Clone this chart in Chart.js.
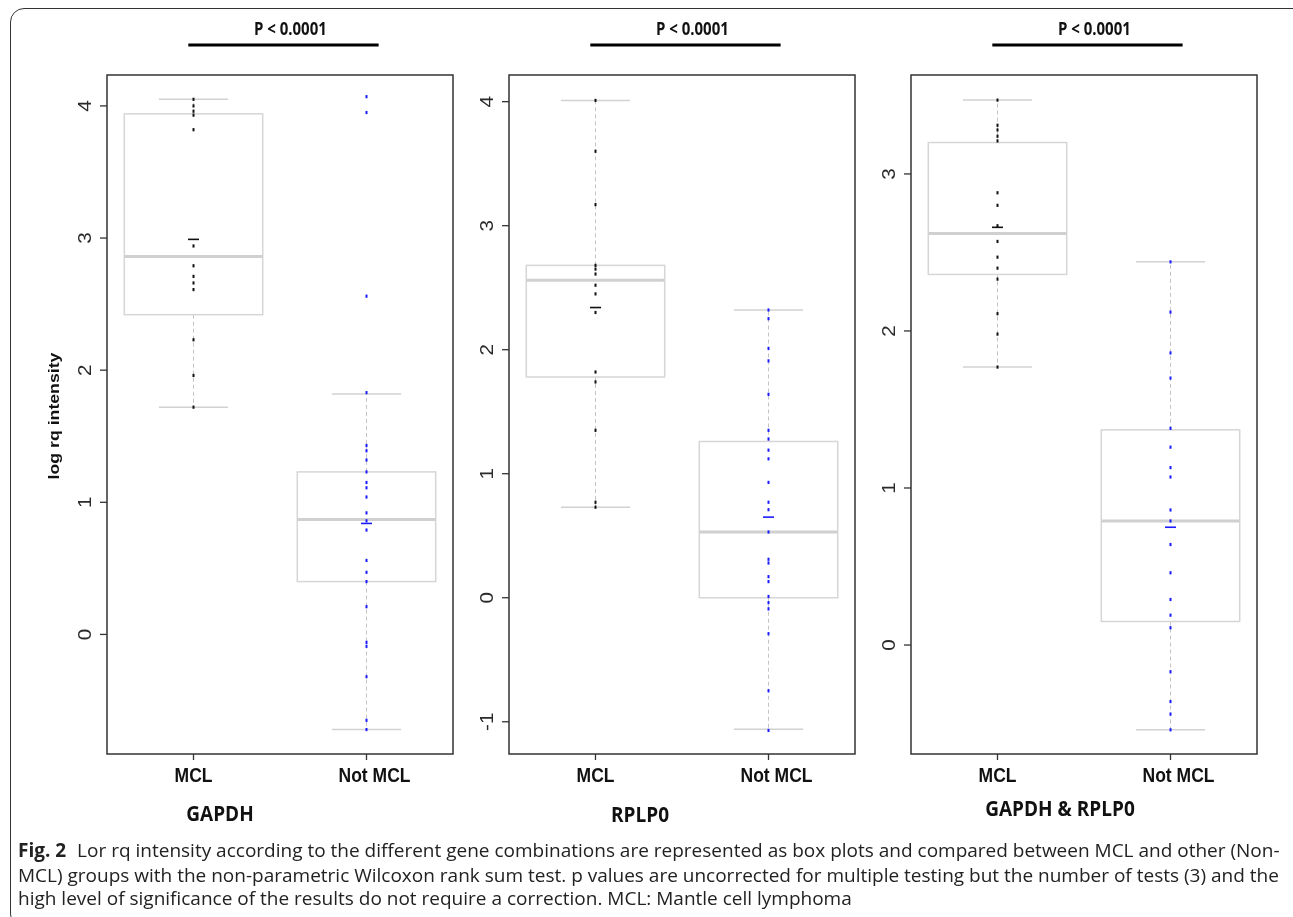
<!DOCTYPE html>
<html>
<head>
<meta charset="utf-8">
<script src="https://cdn.jsdelivr.net/npm/chart.js@4.4.1/dist/chart.umd.min.js"></script>
<style>
  html, body { margin: 0; padding: 0; background: #fff; }
  #page { position: relative; width: 1293px; height: 917px; overflow: hidden; }
  #page canvas { position: absolute; left: 0; top: 0; pointer-events: none; }
  .frame { position: absolute; left: 10px; top: 8px; width: 1300px; height: 920px;
    border: 1.5px solid #333; border-radius: 14px; box-sizing: border-box; }
  .sub { position: absolute; transform: translate(-50%, -50%) scaleY(1.1); white-space: nowrap;
    font: bold 19px "Open Sans", sans-serif; color: #111; }
  .cap { position: absolute; left: 18px; white-space: nowrap; color: #222;
    font-family: "Open Sans", sans-serif; font-size: 17px; line-height: 24px; }
  .cap b { font-weight: bold; margin-right: 6px; }
</style>
</head>
<body>
<div id="page">
  <div class="frame"></div>
  <canvas id="c0" width="1293" height="917"></canvas>
  <canvas id="c1" width="1293" height="917"></canvas>
  <canvas id="c2" width="1293" height="917"></canvas>
  <div class="sub" style="left:220px;top:813px">GAPDH</div>
  <div class="sub" style="left:640px;top:814px">RPLP0</div>
  <div class="sub" style="left:1060px;top:808px">GAPDH &amp; RPLP0</div>
  <div class="cap" id="cap1" style="top:838px"><b>Fig. 2</b> Lor rq intensity according to the different gene combinations are represented as box plots and compared between MCL and other (Non-</div>
  <div class="cap" style="top:863px">MCL) groups with the non-parametric Wilcoxon rank sum test. p values are uncorrected for multiple testing but the number of tests (3) and the</div>
  <div class="cap" style="top:886px">high level of significance of the results do not require a correction. MCL: Mantle cell lymphoma</div>
</div>
<script>
// groups on the x axis
const groups = ['MCL', 'Not MCL'];
const pLabel = 'P < 0.0001';
const yTitle = 'log rq intensity';

// GAPDH
const gapdhMcl = [4.05, 4.00, 3.96, 3.93, 3.82, 2.94, 2.79, 2.71, 2.66, 2.61, 2.23, 1.96, 1.72];
const gapdhNot = [4.07, 3.95, 2.56, 1.83, 1.43, 1.39, 1.32, 1.23, 1.15, 1.11, 1.04, 0.92, 0.86, 0.79,
  0.56, 0.47, 0.40, 0.21, -0.06, -0.09, -0.32, -0.65, -0.72];
// [low whisker, q1, median, q3, high whisker]
const gapdhBox = [[1.72, 2.42, 2.86, 3.94, 4.05], [-0.72, 0.40, 0.87, 1.23, 1.82]];
const gapdhMean = [2.99, 0.84];
const gapdhTicks = [0, 1, 2, 3, 4];

// RPLP0
const rplp0Mcl = [4.01, 3.60, 3.17, 2.68, 2.65, 2.61, 2.52, 2.45, 2.30, 1.82, 1.74, 1.35, 0.77, 0.73];
const rplp0Not = [2.32, 2.25, 2.01, 1.91, 1.64, 1.35, 1.28, 1.19, 1.12, 0.93, 0.77, 0.71, 0.53, 0.31,
  0.28, 0.17, 0.13, 0.01, -0.04, -0.09, -0.29, -0.75, -1.07];
const rplp0Box = [[0.73, 1.78, 2.56, 2.68, 4.01], [-1.06, 0.00, 0.53, 1.26, 2.32]];
const rplp0Mean = [2.34, 0.65];
const rplp0Ticks = [-1, 0, 1, 2, 3, 4];

// GAPDH & RPLP0
const bothMcl = [3.47, 3.31, 3.28, 3.24, 3.21, 2.88, 2.80, 2.67, 2.57, 2.47, 2.40, 2.33, 2.11, 1.98, 1.77];
const bothNot = [2.44, 2.12, 1.86, 1.70, 1.38, 1.26, 1.13, 1.07, 0.86, 0.79, 0.64, 0.46, 0.29, 0.19,
  0.11, -0.17, -0.36, -0.44, -0.54];
const bothBox = [[1.77, 2.36, 2.62, 3.20, 3.47], [-0.54, 0.15, 0.79, 1.37, 2.44]];
const bothMean = [2.66, 0.75];
const bothTicks = [0, 1, 2, 3];

const panels = [
  { id: 'c0', left: 107, yMin: -0.905, yMax: 4.234, mcl: gapdhMcl, not: gapdhNot, box: gapdhBox, mean: gapdhMean, ticks: gapdhTicks, title: true },
  { id: 'c1', left: 509, yMin: -1.26, yMax: 4.215, mcl: rplp0Mcl, not: rplp0Not, box: rplp0Box, mean: rplp0Mean, ticks: rplp0Ticks },
  { id: 'c2', left: 911, yMin: -0.694, yMax: 3.63, mcl: bothMcl, not: bothNot, box: bothBox, mean: bothMean, ticks: bothTicks }
];

const AXIS_FONT = '"Liberation Sans", Arial, sans-serif';
const STRETCH = 1.18; // the figure is a bit taller than wide

const boxPlugin = {
  id: 'boxPanel',
  beforeDatasetsDraw(chart, args, opts) {
    const { ctx, scales: { x, y } } = chart;
    ctx.save();
    opts.box.forEach((b, i) => {
      const xc = x.getPixelForValue(i + 1);
      const xl = x.getPixelForValue(i + 0.6), xr = x.getPixelForValue(i + 1.4);
      const cl = x.getPixelForValue(i + 0.8), cr = x.getPixelForValue(i + 1.2);
      const [lo, q1, med, q3, hi] = b.map(v => y.getPixelForValue(v));
      // whiskers
      ctx.strokeStyle = '#c4c4c4';
      ctx.lineWidth = 1;
      ctx.setLineDash([4, 3]);
      ctx.beginPath();
      ctx.moveTo(xc, q3); ctx.lineTo(xc, hi);
      ctx.moveTo(xc, q1); ctx.lineTo(xc, lo);
      ctx.stroke();
      ctx.setLineDash([]);
      ctx.strokeStyle = '#d2d2d2';
      ctx.lineWidth = 1.5;
      ctx.beginPath();
      ctx.moveTo(cl, hi); ctx.lineTo(cr, hi);
      ctx.moveTo(cl, lo); ctx.lineTo(cr, lo);
      ctx.stroke();
      // box
      ctx.fillStyle = '#fff';
      ctx.fillRect(xl, q3, xr - xl, q1 - q3);
      ctx.strokeStyle = '#d6d6d6';
      ctx.lineWidth = 1.5;
      ctx.strokeRect(xl, q3, xr - xl, q1 - q3);
      ctx.strokeStyle = '#d0d0d0';
      ctx.lineWidth = 3;
      ctx.beginPath();
      ctx.moveTo(xl, med); ctx.lineTo(xr, med);
      ctx.stroke();
    });
    ctx.restore();
  },
  afterDraw(chart, args, opts) {
    const { ctx, chartArea: a, scales: { x, y } } = chart;
    ctx.save();
    // plot frame
    ctx.strokeStyle = '#333';
    ctx.lineWidth = 1.5;
    ctx.strokeRect(a.left, a.top, a.right - a.left, a.bottom - a.top);
    // y ticks, labels parallel to the axis
    ctx.lineWidth = 1.3;
    ctx.fillStyle = '#2a2a2a';
    ctx.font = '17.5px ' + AXIS_FONT;
    ctx.textAlign = 'center';
    ctx.textBaseline = 'middle';
    opts.ticks.forEach(t => {
      const py = y.getPixelForValue(t);
      ctx.beginPath();
      ctx.moveTo(a.left, py); ctx.lineTo(a.left - 7, py);
      ctx.stroke();
      ctx.save();
      ctx.translate(a.left - 21, py);
      ctx.scale(1, STRETCH);
      ctx.rotate(-Math.PI / 2);
      ctx.fillText(String(t), 0, 0);
      ctx.restore();
    });
    // x ticks
    ctx.font = 'bold 17.5px ' + AXIS_FONT;
    ctx.fillStyle = '#111';
    groups.forEach((g, i) => {
      const px = x.getPixelForValue(i + 1);
      ctx.beginPath();
      ctx.moveTo(px, a.bottom); ctx.lineTo(px, a.bottom + 6);
      ctx.stroke();
      ctx.save();
      ctx.translate(px + (i === 1 ? 8 : 0), a.bottom + 22);
      ctx.scale(1, STRETCH);
      ctx.fillText(g, 0, 0);
      ctx.restore();
    });
    // significance bar
    const b0 = x.getPixelForValue(0.97), b1 = x.getPixelForValue(2.07);
    ctx.fillStyle = '#000';
    ctx.fillRect(b0, 43.5, b1 - b0, 3);
    ctx.fillStyle = '#111';
    ctx.font = 'bold 15px "Open Sans", sans-serif';
    ctx.save();
    ctx.translate(x.getPixelForValue(1.56), 30);
    ctx.scale(1, STRETCH);
    ctx.fillText(pLabel, 0, 0);
    ctx.restore();
    // y title
    if (opts.title) {
      ctx.save();
      ctx.translate(55, 416);
      ctx.scale(1, STRETCH);
      ctx.rotate(-Math.PI / 2);
      ctx.font = 'bold 15px ' + AXIS_FONT;
      ctx.fillStyle = '#111';
      ctx.fillText(yTitle, 0, 0);
      ctx.restore();
    }
    ctx.restore();
  }
};

panels.forEach(p => {
  const dot = (data, xv, color) => ({
    data: data.map(v => ({ x: xv, y: v })),
    pointStyle: 'line', rotation: 90, radius: 1.6, borderWidth: 2,
    borderColor: color, backgroundColor: color
  });
  new Chart(document.getElementById(p.id), {
    type: 'scatter',
    data: {
      datasets: [
        dot(p.mcl, 1, '#111'),
        dot(p.not, 2, '#1a1aff'),
        {
          data: p.mean.map((v, i) => ({ x: i + 1, y: v })),
          pointStyle: 'line', radius: 5.5, borderWidth: 1.6,
          borderColor: ['#111', '#1a1aff'], backgroundColor: ['#111', '#1a1aff']
        }
      ]
    },
    options: {
      responsive: false,
      animation: false,
      layout: { padding: { left: p.left, right: 1293 - p.left - 346, top: 75, bottom: 917 - 754 } },
      scales: {
        x: { type: 'linear', min: 0.5, max: 2.5, display: false },
        y: { type: 'linear', min: p.yMin, max: p.yMax, display: false }
      },
      plugins: {
        legend: { display: false },
        tooltip: { enabled: false },
        boxPanel: { box: p.box, ticks: p.ticks, title: !!p.title }
      }
    },
    plugins: [boxPlugin]
  });
});

// fit the first caption line to the width it takes in the figure
const cap1 = document.getElementById('cap1');
const fs = 17 * 1262 / cap1.getBoundingClientRect().width;
document.querySelectorAll('.cap').forEach(c => { c.style.fontSize = fs.toFixed(2) + 'px'; });
</script>
</body>
</html>
